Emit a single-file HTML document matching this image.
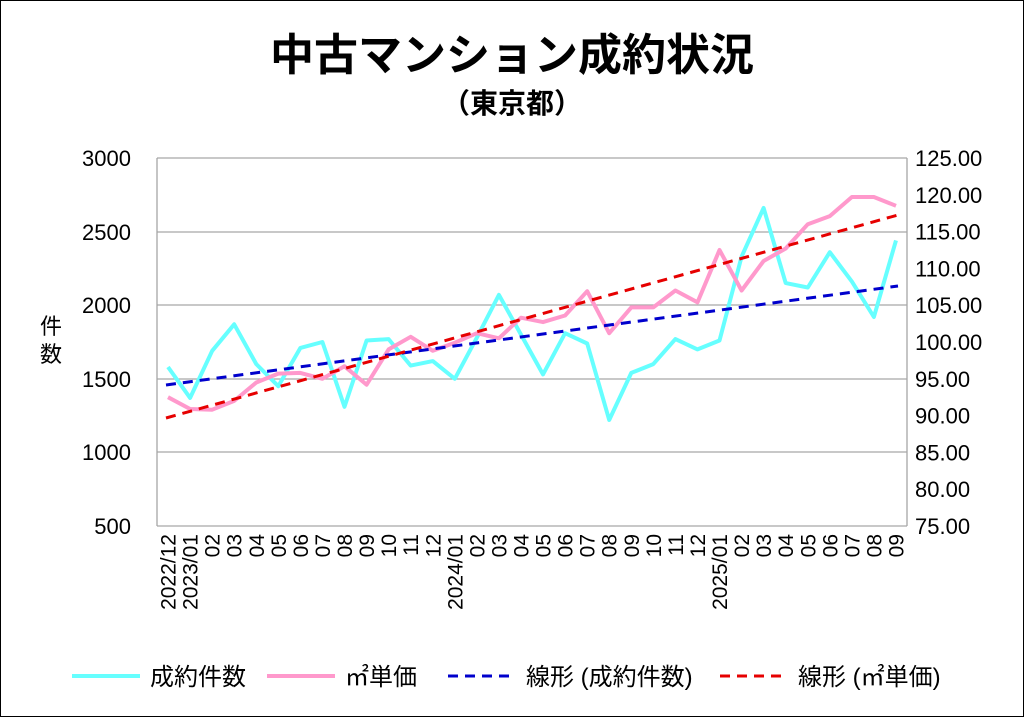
<!DOCTYPE html>
<html><head><meta charset="utf-8"><style>
body{margin:0;background:#fff}
svg{display:block;font-family:"Liberation Sans","Noto Sans CJK JP",sans-serif}
</style></head><body>
<svg width="1024" height="717" viewBox="0 0 1024 717" xmlns="http://www.w3.org/2000/svg">
<rect x="0.5" y="0.5" width="1023" height="716" fill="#fff" stroke="#000" stroke-width="1"/>
<text x="512" y="70" font-size="44" font-weight="bold" text-anchor="middle">中古マンション成約状況</text>
<text x="512" y="113" font-size="28" font-weight="bold" text-anchor="middle">（東京都）</text>
<g stroke="#a6a6a6" stroke-width="1.3">
<line x1="157" y1="158" x2="907" y2="158"/><line x1="157" y1="232" x2="907" y2="232"/>
<line x1="157" y1="305" x2="907" y2="305"/><line x1="157" y1="379" x2="907" y2="379"/>
<line x1="157" y1="452" x2="907" y2="452"/><line x1="157" y1="526" x2="907" y2="526"/>
<line x1="157" y1="158" x2="157" y2="526"/><line x1="907" y1="158" x2="907" y2="526"/>
</g>
<g font-size="22" text-anchor="end">
<text x="131" y="166">3000</text><text x="131" y="240">2500</text><text x="131" y="313">2000</text>
<text x="131" y="387">1500</text><text x="131" y="460">1000</text><text x="131" y="534">500</text>
</g>
<g id="rt" font-size="22" text-anchor="start"></g>
<text x="40" y="334" font-size="22">件</text><text x="40" y="362" font-size="22">数</text>
<g id="xl" font-size="21"></g>
<polyline id="cy" fill="none" stroke="#66ffff" stroke-width="4" stroke-linejoin="round"/>
<polyline id="pk" fill="none" stroke="#ff99cc" stroke-width="4" stroke-linejoin="round"/>
<line x1="166" y1="385" x2="898" y2="286" stroke="#0000cc" stroke-width="3" stroke-dasharray="10,7"/>
<line x1="166" y1="418" x2="898" y2="215" stroke="#e60000" stroke-width="3" stroke-dasharray="10,7"/>
<g font-size="24">
<line x1="72" y1="676" x2="140" y2="676" stroke="#66ffff" stroke-width="4"/>
<text x="150" y="685">成約件数</text>
<line x1="267" y1="676" x2="335" y2="676" stroke="#ff99cc" stroke-width="4"/>
<text x="345" y="685">㎡単価</text>
<line x1="448" y1="676" x2="516" y2="676" stroke="#0000cc" stroke-width="3" stroke-dasharray="10,7"/>
<text x="526" y="685">線形 (成約件数)</text>
<line x1="720" y1="676" x2="788" y2="676" stroke="#e60000" stroke-width="3" stroke-dasharray="10,7"/>
<text x="798" y="685">線形 (㎡単価)</text>
</g>
</svg>
<script>
var s=document.querySelector('svg'),NS="http://www.w3.org/2000/svg";
var rt=s.querySelector('#rt');
[125,120,115,110,105,100,95,90,85,80,75].forEach(function(v){var y=158+(125-v)*7.36+8;var t=document.createElementNS(NS,'text');t.setAttribute('x',915);t.setAttribute('y',y);t.textContent=v.toFixed(2);rt.appendChild(t);});
var labs=["2022/12","2023/01","02","03","04","05","06","07","08","09","10","11","12","2024/01","02","03","04","05","06","07","08","09","10","11","12","2025/01","02","03","04","05","06","07","08","09"];
var cnt=[1580,1370,1690,1870,1600,1450,1710,1750,1310,1760,1770,1590,1620,1500,1780,2070,1800,1530,1810,1740,1220,1540,1600,1770,1700,1760,2330,2660,2150,2120,2360,2160,1920,2440];
var pr=[92.5,90.9,90.8,92,94.5,95.7,95.8,95,96.7,94.2,99,100.7,98.8,99.9,101.2,100.5,103.3,102.7,103.6,106.9,101.2,104.7,104.7,107,105.4,112.5,107,111,112.7,116,117.1,119.7,119.7,118.5];
var xl=s.querySelector('#xl'),a=[],b=[];
labs.forEach(function(l,i){var x=157+22.06*(i+0.5);var t=document.createElementNS(NS,'text');t.setAttribute('transform','translate('+(x+7.5)+',534) rotate(-90)');t.setAttribute('text-anchor','end');t.textContent=l;xl.appendChild(t);
a.push(x.toFixed(1)+','+(158+(3000-cnt[i])*0.1472).toFixed(1));b.push(x.toFixed(1)+','+(158+(125-pr[i])*7.36).toFixed(1));});
s.querySelector('#cy').setAttribute('points',a.join(' '));s.querySelector('#pk').setAttribute('points',b.join(' '));
</script>
</body></html>
